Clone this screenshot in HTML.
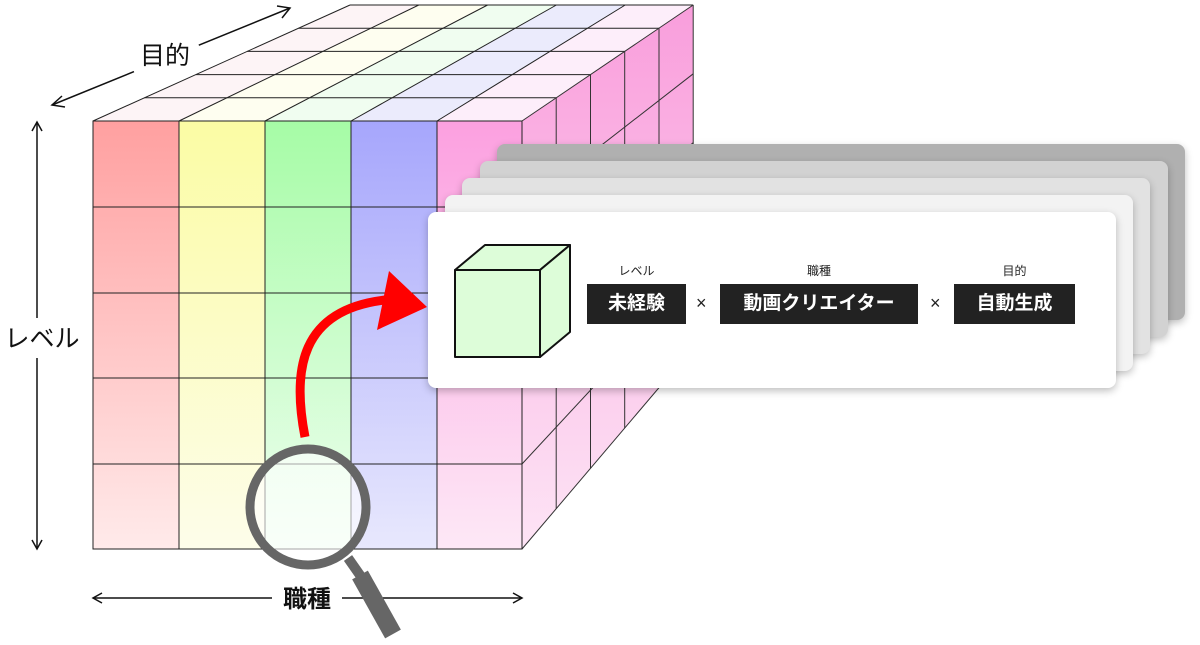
<!DOCTYPE html>
<html><head><meta charset="utf-8"><style>
html,body{margin:0;padding:0;background:#fff;}
body{width:1200px;height:645px;position:relative;overflow:hidden;font-family:"Liberation Sans","Noto Sans CJK JP",sans-serif;}
.card{position:absolute;width:688px;height:176px;border-radius:8px;box-shadow:0 3px 8px rgba(0,0,0,0.25);}
.lab{position:absolute;font-size:12px;color:#222;text-align:center;}
.box{position:absolute;height:40px;top:284px;background:#222;color:#fff;font-size:19px;line-height:40px;text-align:center;font-weight:bold;}
.x{position:absolute;top:293px;font-size:18px;color:#222;}
svg{position:absolute;left:0;top:0;}
</style></head><body>
<svg width="1200" height="645" viewBox="0 0 1200 645">
<defs>
<linearGradient id="gr" x1="0" y1="0" x2="0" y2="1"><stop offset="0" stop-color="#ffa0a0"/><stop offset="1" stop-color="#ffeaea"/></linearGradient>
<linearGradient id="gy" x1="0" y1="0" x2="0" y2="1"><stop offset="0" stop-color="#fbfca4"/><stop offset="1" stop-color="#fdfdea"/></linearGradient>
<linearGradient id="gg" x1="0" y1="0" x2="0" y2="1"><stop offset="0" stop-color="#a6fca6"/><stop offset="1" stop-color="#effef0"/></linearGradient>
<linearGradient id="gb" x1="0" y1="0" x2="0" y2="1"><stop offset="0" stop-color="#a6a6fc"/><stop offset="1" stop-color="#e8e8fd"/></linearGradient>
<linearGradient id="gp" x1="0" y1="0" x2="0" y2="1"><stop offset="0" stop-color="#fca0e0"/><stop offset="1" stop-color="#fde8f6"/></linearGradient>
<linearGradient id="gs" x1="0" y1="0" x2="0" y2="1"><stop offset="0" stop-color="#f99edc"/><stop offset="1" stop-color="#fde4f5"/></linearGradient>
</defs>
<polygon points="93,121 179,121 418.8,5 350,5" fill="#fdf4f6"/>
<polygon points="179,121 265,121 487.6,5 418.8,5" fill="#fefef0"/>
<polygon points="265,121 351,121 556.4,5 487.6,5" fill="#f0fdf0"/>
<polygon points="351,121 437,121 625.2,5 556.4,5" fill="#ebebfc"/>
<polygon points="437,121 522,121 693.2,5 625.2,5" fill="#fdeefa"/>
<g stroke="#222" stroke-width="1" fill="none">
<line x1="144.4" y1="97.8" x2="556.2" y2="97.8"/>
<line x1="195.8" y1="74.6" x2="590.5" y2="74.6"/>
<line x1="247.2" y1="51.4" x2="624.7" y2="51.4"/>
<line x1="298.6" y1="28.2" x2="659" y2="28.2"/>
<line x1="350" y1="5" x2="693.2" y2="5"/>
<line x1="93" y1="121" x2="350" y2="5"/>
<line x1="179" y1="121" x2="418.8" y2="5"/>
<line x1="265" y1="121" x2="487.6" y2="5"/>
<line x1="351" y1="121" x2="556.4" y2="5"/>
<line x1="437" y1="121" x2="625.2" y2="5"/>
</g>
<polygon points="522,121 693.2,5 693.2,347.4 522,549" fill="url(#gs)"/>
<g stroke="#333" stroke-width="1" fill="none">
<line x1="522" y1="121" x2="693.2" y2="5"/>
<line x1="522" y1="207" x2="693.2" y2="73.8"/>
<line x1="522" y1="293" x2="693.2" y2="142.6"/>
<line x1="522" y1="378" x2="693.2" y2="210.6"/>
<line x1="522" y1="464" x2="693.2" y2="279.4"/>
<line x1="522" y1="549" x2="693.2" y2="347.4"/>
<line x1="556.2" y1="97.8" x2="556.2" y2="508.7"/>
<line x1="590.5" y1="74.6" x2="590.5" y2="468.4"/>
<line x1="624.7" y1="51.4" x2="624.7" y2="428"/>
<line x1="659" y1="28.2" x2="659" y2="387.7"/>
<line x1="693.2" y1="5" x2="693.2" y2="347.4"/>
</g>
<rect x="93" y="121" width="86" height="428" fill="url(#gr)"/>
<rect x="179" y="121" width="86" height="428" fill="url(#gy)"/>
<rect x="265" y="121" width="86" height="428" fill="url(#gg)"/>
<rect x="351" y="121" width="86" height="428" fill="url(#gb)"/>
<rect x="437" y="121" width="85" height="428" fill="url(#gp)"/>
<g stroke="#222" stroke-width="1" fill="none">
<rect x="93" y="121" width="429" height="428"/>
<line x1="179" y1="121" x2="179" y2="549"/>
<line x1="265" y1="121" x2="265" y2="549"/>
<line x1="351" y1="121" x2="351" y2="549"/>
<line x1="437" y1="121" x2="437" y2="549"/>
<line x1="93" y1="207" x2="522" y2="207"/>
<line x1="93" y1="293" x2="522" y2="293"/>
<line x1="93" y1="378" x2="522" y2="378"/>
<line x1="93" y1="464" x2="522" y2="464"/>
</g>
<g stroke="#111" stroke-width="1.5" fill="none">
<line x1="52" y1="105" x2="290" y2="8"/>
<polyline points="62,96 52,105 65,107"/>
<polyline points="277,6 290,8 282,18"/>
<line x1="37" y1="122" x2="37" y2="549"/>
<polyline points="32,131 37,122 42,131"/>
<polyline points="32,540 37,549 42,540"/>
<line x1="93" y1="598" x2="522" y2="598"/>
<polyline points="102,593 93,598 102,603"/>
<polyline points="513,593 522,598 513,603"/>
</g>
<rect x="130" y="38" width="70" height="34" fill="#fff" transform="rotate(-22 165 55)"/>
<text x="165" y="64" font-size="25" text-anchor="middle" fill="#111" font-family="Liberation Sans, Noto Sans CJK JP, sans-serif">目的</text>
<rect x="2" y="318" width="80" height="40" fill="#fff"/>
<text x="42" y="347" font-size="25" text-anchor="middle" fill="#111" font-family="Liberation Sans, Noto Sans CJK JP, sans-serif">レベル</text>
<rect x="272" y="582" width="70" height="34" fill="#fff"/>
<text x="307" y="607" font-size="24" font-weight="bold" text-anchor="middle" fill="#111" font-family="Liberation Sans, Noto Sans CJK JP, sans-serif">職種</text>
</svg>

<div class="card" style="left:497px;top:144px;background:#b0b0b0;"></div>
<div class="card" style="left:480px;top:161px;background:#d2d2d2;"></div>
<div class="card" style="left:462px;top:178px;background:#e2e2e2;"></div>
<div class="card" style="left:445px;top:195px;background:#f3f3f3;"></div>
<div class="card" style="left:428px;top:212px;background:#fff;"></div>

<svg width="1200" height="645" viewBox="0 0 1200 645">
<g stroke="#111" stroke-width="2" fill="#ddfdd9" stroke-linejoin="round">
<polygon points="455,270 485,245 570,245 540,270"/>
<polygon points="540,270 570,245 570,332 540,357"/>
<rect x="455" y="270" width="85" height="87"/>
</g>
<path d="M305,437 C292,370 300,310 385,300" stroke="#ff0000" stroke-width="9" fill="none"/>
<polygon points="427,307 389,271 377,330" fill="#ff0000"/>
<circle cx="308" cy="507" r="58" fill="rgba(255,255,255,0.6)" stroke="#666" stroke-width="9"/>
<line x1="348" y1="558" x2="362" y2="578" stroke="#666" stroke-width="10"/>
<line x1="360" y1="575" x2="393" y2="634" stroke="#666" stroke-width="18"/>
</svg>

<div class="lab" style="left:587px;width:99px;top:262px;">レベル</div>
<div class="lab" style="left:720px;width:198px;top:262px;">職種</div>
<div class="lab" style="left:954px;width:121px;top:262px;">目的</div>
<div class="box" style="left:587px;width:99px;">未経験</div>
<div class="x" style="left:696px;">×</div>
<div class="box" style="left:720px;width:198px;">動画クリエイター</div>
<div class="x" style="left:930px;">×</div>
<div class="box" style="left:954px;width:121px;">自動生成</div>
</body></html>
